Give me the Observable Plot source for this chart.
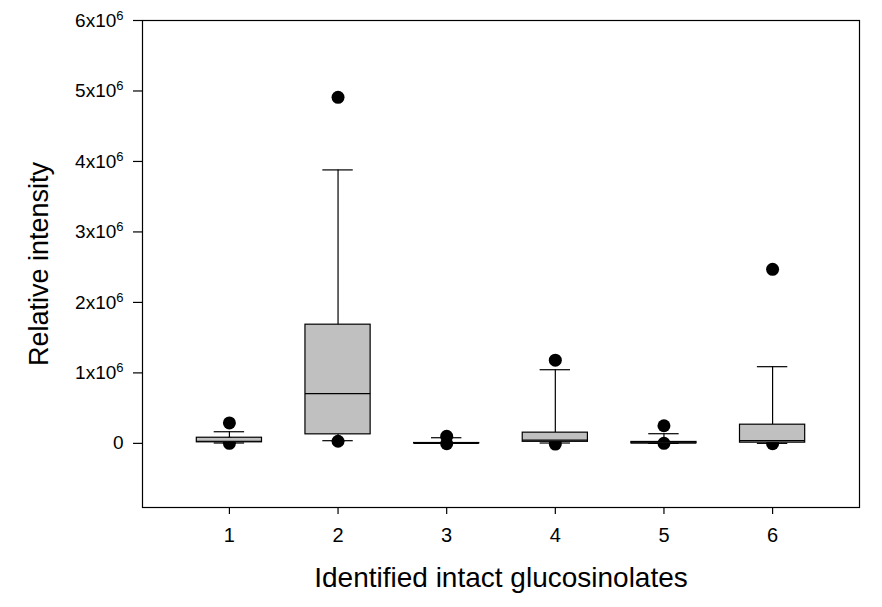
<!DOCTYPE html>
<html><head><meta charset="utf-8">
<script src="https://cdn.jsdelivr.net/npm/d3@7"></script>
<script src="https://cdn.jsdelivr.net/npm/@observablehq/plot@0.6"></script>
<style>body{margin:0;background:#fff}</style>
</head><body><div id="chart"></div>
<script>
const groups       = [1, 2, 3, 4, 5, 6];
const whiskerLow   = [0.005e6, 0.038e6, 0,       0.005e6, 0,       0];
const q1           = [0.015e6, 0.128e6, 0,       0.022e6, 0,       0.010e6];
const median       = [0.030e6, 0.705e6, 0,       0.045e6, 0.005e6, 0.038e6];
const q3           = [0.080e6, 1.684e6, 0.005e6, 0.152e6, 0.020e6, 0.265e6];
const whiskerHigh  = [0.165e6, 3.880e6, 0.080e6, 1.045e6, 0.137e6, 1.088e6];
const outlierGroup = [1, 1, 2, 2, 3, 3, 4, 4, 5, 5, 6, 6];
const outlierValue = [0.29e6, 0, 4.91e6, 0.03e6, 0.10e6, -0.005e6, 1.18e6, -0.01e6, 0.25e6, 0, 2.47e6, -0.005e6];
const yTicks = [0, 1e6, 2e6, 3e6, 4e6, 5e6, 6e6];
const xTitle = "Identified intact glucosinolates";
const yTitle = "Relative intensity";

const boxes = groups.map((g, i) => ({g, lo: whiskerLow[i], q1: q1[i], med: median[i], q3: q3[i], hi: whiskerHigh[i]}));
const outliers = outlierGroup.map((g, i) => ({g, v: outlierValue[i]}));
const HALF = 0.3, CAP = 0.14, SW = 1.2;

const chart = Plot.plot({
  width: 882, height: 607,
  marginLeft: 142, marginRight: 23, marginTop: 20, marginBottom: 100,
  style: {fontFamily: '"Liberation Sans", Arial, sans-serif', fontSize: "19px", color: "#000", background: "#fff"},
  x: {type: "linear", domain: [0.2, 6.8]},
  y: {domain: [-0.91e6, 6e6]},
  marks: [
    Plot.frame({stroke: "#000", strokeWidth: SW}),
    Plot.axisX({ticks: groups, tickSize: 7, tickPadding: 13, tickFormat: d => String(d), label: null, fontSize: 20, strokeWidth: SW}),
    Plot.axisY({ticks: yTicks, tickSize: 9, tickPadding: 10, tickFormat: d => d === 0 ? "0" : `${d / 1e6}x10^6`, label: null, strokeWidth: SW}),
    Plot.ruleX(boxes, {x: "g", y1: "q3", y2: "hi", stroke: "#000", strokeWidth: SW}),
    Plot.ruleX(boxes, {x: "g", y1: "lo", y2: "q1", stroke: "#000", strokeWidth: SW}),
    Plot.ruleY(boxes, {y: "hi", x1: d => d.g - CAP, x2: d => d.g + CAP, stroke: "#000", strokeWidth: SW}),
    Plot.ruleY(boxes, {y: "lo", x1: d => d.g - CAP, x2: d => d.g + CAP, stroke: "#000", strokeWidth: SW}),
    Plot.dot(outliers, {x: "g", y: "v", r: 6.5, fill: "#000"}),
    Plot.rect(boxes, {x1: d => d.g - HALF, x2: d => d.g + HALF, y1: "q1", y2: "q3", fill: "#c0c0c0", stroke: "#000", strokeWidth: SW}),
    Plot.ruleY(boxes, {y: "med", x1: d => d.g - HALF, x2: d => d.g + HALF, stroke: "#000", strokeWidth: SW}),
    Plot.text([xTitle], {frameAnchor: "bottom", dy: 71, text: d => d, fontSize: 28, textAnchor: "middle", lineAnchor: "middle"}),
    Plot.text([yTitle], {frameAnchor: "left", dx: -103, rotate: -90, text: d => d, fontSize: 27, textAnchor: "middle", lineAnchor: "middle"})
  ]
});

chart.querySelectorAll('g[aria-label="y-axis tick label"] text').forEach(t => {
  const m = t.textContent.match(/^(.*)\^(\d+)$/);
  if (m) {
    t.textContent = m[1];
    const ts = document.createElementNS("http://www.w3.org/2000/svg", "tspan");
    ts.setAttribute("dy", "-7");
    ts.setAttribute("font-size", "13");
    ts.textContent = m[2];
    t.appendChild(ts);
  }
});
document.getElementById("chart").appendChild(chart);
</script>
</body></html>
